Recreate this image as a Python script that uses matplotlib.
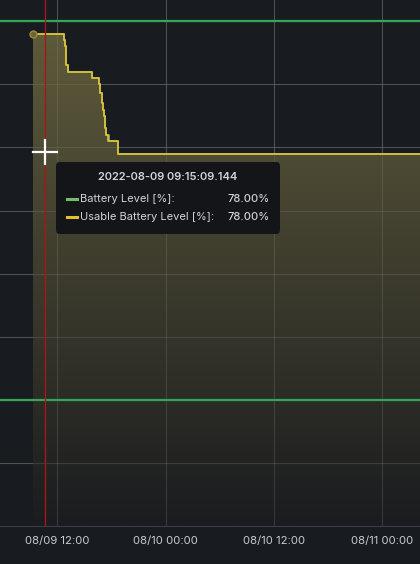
import pandas as pd
import numpy as np
import matplotlib
matplotlib.use('Agg')
import matplotlib.pyplot as plt
import matplotlib.dates as mdates
from matplotlib.patches import FancyBboxPatch
from matplotlib.lines import Line2D

### Data ###
usable_times = ['2022-08-09 09:15:09', '2022-08-09 12:44:00', '2022-08-09 12:53:00', '2022-08-09 13:00:00',
                '2022-08-09 13:09:00', '2022-08-09 15:49:00', '2022-08-09 16:37:00', '2022-08-09 16:46:00',
                '2022-08-09 16:55:00', '2022-08-09 17:04:00', '2022-08-09 17:10:00', '2022-08-09 17:17:00',
                '2022-08-09 17:24:00', '2022-08-09 17:39:00', '2022-08-09 18:41:00', '2022-08-11 05:00:00']
usable_level = [98, 97, 96, 93, 92, 91, 90, 88.6, 87, 86, 85, 83, 82, 81, 79, 79]

battery_times = ['2022-08-09 09:15:09', '2022-08-09 12:44:00', '2022-08-09 12:53:00', '2022-08-09 13:00:00',
                 '2022-08-09 13:09:00', '2022-08-09 15:49:00', '2022-08-09 16:37:00', '2022-08-09 16:46:00',
                 '2022-08-09 16:55:00', '2022-08-09 17:04:00', '2022-08-09 17:10:00', '2022-08-09 17:17:00',
                 '2022-08-09 17:26:00', '2022-08-09 17:41:00', '2022-08-09 18:41:00', '2022-08-11 05:00:00']
battery_level = [98, 97, 96, 93, 92, 91, 90, 88.6, 87, 86, 85, 83, 82, 81, 79, 79]

thresholds = [100, 40]
annotation_time = '2022-08-09 10:40:00'
tick_times = ['2022-08-09 12:00:00', '2022-08-10 00:00:00', '2022-08-10 12:00:00', '2022-08-11 00:00:00']
tick_labels = ['08/09 12:00', '08/10 00:00', '08/10 12:00', '08/11 00:00']

tip_title = '2022-08-09 09:15:09.144'
tip_names = ['Battery Level [%]:', 'Usable Battery Level [%]:']
tip_values = ['78.00%', '78.00%']

### Colors ###
bg = '#181b1f'
grid_c = '#3b3d42'
text_c = '#c7cad1'
yellow = '#e2bf34'
green = '#73bf69'
thresh_c = '#33a852'

plt.rcParams['font.family'] = ['Inter', 'DejaVu Sans']

W, H = 420, 564
fig = plt.figure(figsize=(W / 100, H / 100), dpi=100, facecolor=bg)
ax = fig.add_axes([0, 38 / H, 1, 526 / H])
ax.set_facecolor(bg)

ut = pd.to_datetime(usable_times)
bt = pd.to_datetime(battery_times)

x_left = pd.Timestamp('2022-08-09 05:39')
x_right = pd.Timestamp('2022-08-11 04:11')
y_bot, y_top = 20, 20 + 526 / 6.31
ax.set_xlim(x_left, x_right)
ax.set_ylim(y_bot, y_top)

### grid ###
for v in range(30, 100, 10):
    ax.axhline(v, color=grid_c, lw=0.8, zorder=1)
for t in tick_times:
    ax.axvline(pd.Timestamp(t), color=grid_c, lw=0.8, zorder=1)

# gradient fill under the usable level line
poly = ax.fill_between(ut, usable_level, y_bot, step='post', facecolor='none', edgecolor='none')
top_c = np.array([98, 94, 60]) / 255
bot_c = np.array([26, 28, 31]) / 255
frac = np.linspace(1, 0, 256)[:, None]
grad = (bot_c + (top_c - bot_c) * frac[..., None])
grad = np.repeat(grad, 2, axis=1)
xl = mdates.date2num([x_left, x_right])
img = ax.imshow(grad, extent=[xl[0], xl[1], y_bot, y_top], aspect='auto', zorder=2, origin='upper')
img.set_clip_path(poly.get_paths()[0], transform=ax.transData)

# grid drawn again faintly over fill
for v in range(30, 100, 10):
    ax.axhline(v, color='#8a8a80', lw=0.8, alpha=0.25, zorder=3)
for t in tick_times:
    ax.axvline(pd.Timestamp(t), color='#8a8a80', lw=0.8, alpha=0.25, zorder=3)

### series ###
ax.plot(bt, battery_level, drawstyle='steps-post', color=green, lw=1.2, zorder=4)
ax.plot(ut, usable_level, drawstyle='steps-post', color=yellow, lw=1.2, zorder=5)
ax.plot(ut[0], usable_level[0], 'o', ms=5, mfc='#6b6438', mec='#9a8a3a', mew=1, zorder=6)

### thresholds ###
for th in thresholds:
    ax.axhline(th, color=thresh_c, lw=1.6, zorder=6)

# annotation marker
ax.axvline(pd.Timestamp(annotation_time), color='#a81616', lw=1.0, zorder=7)

### axes styling ###
for s in ['top', 'left', 'right']:
    ax.spines[s].set_visible(False)
ax.spines['bottom'].set_color(grid_c)
ax.set_yticks([])
ax.set_xticks(pd.to_datetime(tick_times))
ax.set_xticklabels(tick_labels)
ax.tick_params(axis='x', length=0, pad=7, labelsize=8.2, labelcolor=text_c)


def fx(x):
    return x / W


def fy(y):
    return 1 - y / H


### crosshair ###
fig.add_artist(Line2D([fx(33), fx(57)], [fy(152), fy(152)], color='white', lw=1.6, zorder=10))
fig.add_artist(Line2D([fx(45), fx(45)], [fy(140), fy(164)], color='white', lw=1.6, zorder=10))

### tooltip ###
box = FancyBboxPatch((fx(56), fy(234)), fx(224), 72 / H, boxstyle='round,pad=0,rounding_size=0.008',
                     transform=fig.transFigure, facecolor='#141518', edgecolor='none', zorder=11)
fig.add_artist(box)
fig.text(fx(167.5), fy(177), tip_title, ha='center', va='center', color='#d2d3da',
         fontsize=8.0, fontweight='semibold', zorder=12)
for i, (name, val, c) in enumerate(zip(tip_names, tip_values, [green, yellow])):
    yy = 199 + i * 17.5
    fig.add_artist(Line2D([fx(67), fx(77)], [fy(yy), fy(yy)], color=c, lw=2.2, zorder=12))
    fig.text(fx(80), fy(yy), name, ha='left', va='center', color='#d2d3da', fontsize=8.0, zorder=12)
    fig.text(fx(269.5), fy(yy), val, ha='right', va='center', color='#d2d3da', fontsize=8.0,
             fontweight='medium', zorder=12)

plt.savefig('out.png', dpi=100, facecolor=bg)
